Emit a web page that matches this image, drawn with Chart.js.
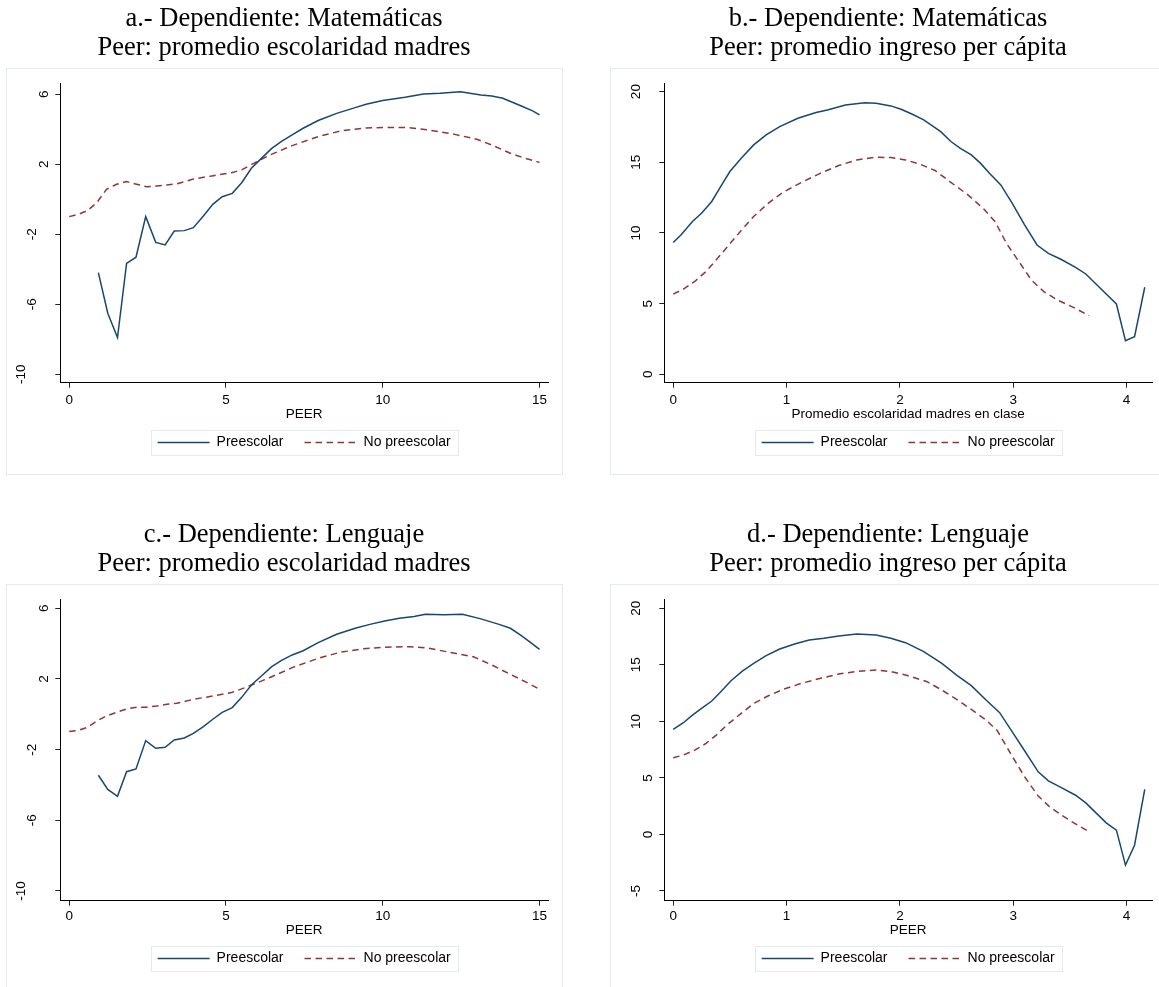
<!DOCTYPE html>
<html>
<head>
<meta charset="utf-8">
<script src="https://cdn.jsdelivr.net/npm/chart.js@4.4.1/dist/chart.umd.min.js"></script>
<style>
  html, body { margin: 0; padding: 0; background: #fff; overflow: hidden; width: 1159px; height: 987px; }
  .panel { position: absolute; width: 568px; height: 516px; }
</style>
</head>
<body>
<div class="panel" style="left:0;top:0"><canvas id="g-a" width="568" height="516"></canvas></div>
<div class="panel" style="left:604px;top:0"><canvas id="g-b" width="568" height="516"></canvas></div>
<div class="panel" style="left:0;top:516px"><canvas id="g-c" width="568" height="516"></canvas></div>
<div class="panel" style="left:604px;top:516px"><canvas id="g-d" width="568" height="516"></canvas></div>
<script>
// --- DATOS ---
const seriesNames = ['Preescolar', 'No preescolar'];

const xTicksEsc = [0, 5, 10, 15];
const xTicksIng = [0, 1, 2, 3, 4];
const yTicksEsc = [-10, -6, -2, 2, 6];
const yTicksB = [0, 5, 10, 15, 20];
const yTicksD = [-5, 0, 5, 10, 15, 20];

// a.- Matemáticas / escolaridad madres
const aPreX = [0.93, 1.23, 1.54, 1.83, 2.13, 2.44, 2.76, 3.06, 3.35, 3.67, 3.96, 4.28, 4.58, 4.88, 5.20, 5.50, 5.81, 6.13, 6.46, 6.76, 7.11, 7.46, 7.94, 8.53, 9.12, 9.47, 10.0, 10.71, 11.30, 11.83, 12.48, 13.13, 13.48, 13.83, 14.42, 14.78, 15.0];
const aPreY = [-4.19, -6.51, -7.90, -3.66, -3.31, -0.99, -2.46, -2.61, -1.81, -1.79, -1.62, -0.95, -0.29, 0.15, 0.34, 0.95, 1.77, 2.34, 2.91, 3.30, 3.68, 4.06, 4.50, 4.91, 5.24, 5.43, 5.64, 5.83, 6.02, 6.06, 6.15, 5.96, 5.90, 5.77, 5.33, 5.05, 4.82];
const aNoX = [0, 0.29, 0.58, 0.88, 1.19, 1.51, 1.83, 2.15, 2.47, 2.79, 3.11, 3.43, 3.96, 4.60, 5.18, 5.50, 5.93, 6.40, 7.11, 7.94, 8.64, 9.35, 10.0, 10.77, 11.47, 12.30, 13.0, 13.48, 14.07, 14.54, 15.0];
const aNoY = [-0.99, -0.86, -0.65, -0.19, 0.57, 0.86, 1.01, 0.86, 0.72, 0.76, 0.82, 0.88, 1.16, 1.35, 1.52, 1.68, 2.10, 2.53, 3.07, 3.58, 3.90, 4.06, 4.11, 4.10, 3.96, 3.71, 3.43, 3.10, 2.63, 2.34, 2.11];

// b.- Matemáticas / ingreso per cápita
const bPreX = [0, 0.07, 0.17, 0.25, 0.34, 0.42, 0.50, 0.60, 0.71, 0.82, 0.94, 1.10, 1.26, 1.36, 1.52, 1.69, 1.79, 1.92, 2.01, 2.11, 2.21, 2.36, 2.45, 2.53, 2.63, 2.71, 2.79, 2.89, 2.99, 3.10, 3.21, 3.31, 3.42, 3.55, 3.64, 3.73, 3.82, 3.91, 3.99, 4.07, 4.16];
const bPreY = [9.33, 9.87, 10.81, 11.40, 12.23, 13.29, 14.35, 15.29, 16.23, 16.94, 17.53, 18.12, 18.52, 18.70, 19.06, 19.22, 19.18, 18.99, 18.75, 18.40, 18.0, 17.17, 16.47, 16.0, 15.52, 14.94, 14.23, 13.40, 12.11, 10.58, 9.15, 8.56, 8.14, 7.57, 7.10, 6.39, 5.68, 4.98, 2.38, 2.66, 6.16];
const bNoX = [0, 0.09, 0.19, 0.29, 0.38, 0.48, 0.60, 0.71, 0.84, 0.97, 1.13, 1.30, 1.46, 1.62, 1.79, 1.92, 2.05, 2.18, 2.31, 2.44, 2.60, 2.74, 2.84, 2.94, 3.06, 3.16, 3.27, 3.39, 3.53, 3.67];
const bNoY = [5.68, 6.03, 6.57, 7.28, 8.10, 9.05, 10.18, 11.17, 12.11, 12.89, 13.57, 14.23, 14.77, 15.17, 15.36, 15.34, 15.17, 14.86, 14.42, 13.64, 12.70, 11.70, 10.80, 9.27, 7.86, 6.67, 5.85, 5.26, 4.74, 4.15];

// c.- Lenguaje / escolaridad madres
const cPreX = [0.93, 1.23, 1.54, 1.83, 2.13, 2.44, 2.76, 3.06, 3.35, 3.67, 3.96, 4.28, 4.58, 4.88, 5.20, 5.50, 5.81, 6.13, 6.46, 6.76, 7.11, 7.46, 7.94, 8.53, 9.12, 9.59, 10.06, 10.53, 11.0, 11.36, 11.95, 12.54, 13.13, 13.71, 14.07, 14.42, 14.72, 15.0];
const cPreY = [-3.45, -4.25, -4.64, -3.25, -3.09, -1.49, -1.92, -1.87, -1.45, -1.34, -1.08, -0.70, -0.28, 0.11, 0.38, 0.96, 1.66, 2.17, 2.70, 3.04, 3.36, 3.60, 4.06, 4.53, 4.87, 5.09, 5.28, 5.43, 5.53, 5.66, 5.64, 5.66, 5.40, 5.09, 4.87, 4.45, 4.06, 3.68];
const cNoX = [0, 0.29, 0.58, 0.88, 1.19, 1.51, 1.83, 2.15, 2.47, 2.79, 3.11, 3.43, 3.96, 4.60, 5.18, 5.70, 6.40, 7.11, 7.94, 8.64, 9.35, 10.0, 10.88, 11.47, 12.30, 12.89, 13.48, 14.07, 14.54, 15.0];
const cNoY = [-0.98, -0.91, -0.74, -0.38, -0.09, 0.11, 0.30, 0.40, 0.40, 0.47, 0.57, 0.62, 0.85, 1.04, 1.23, 1.57, 2.08, 2.64, 3.17, 3.51, 3.70, 3.79, 3.83, 3.74, 3.45, 3.26, 2.79, 2.26, 1.85, 1.42];

// d.- Lenguaje / ingreso per cápita
const dPreX = [0, 0.09, 0.17, 0.25, 0.34, 0.42, 0.51, 0.61, 0.71, 0.82, 0.94, 1.07, 1.20, 1.33, 1.46, 1.62, 1.79, 1.92, 2.05, 2.21, 2.37, 2.50, 2.63, 2.76, 2.88, 2.99, 3.10, 3.22, 3.31, 3.42, 3.55, 3.64, 3.73, 3.82, 3.91, 3.99, 4.07, 4.16];
const dPreY = [9.29, 9.88, 10.56, 11.15, 11.80, 12.63, 13.60, 14.45, 15.13, 15.81, 16.40, 16.84, 17.20, 17.35, 17.55, 17.73, 17.64, 17.35, 16.96, 16.17, 15.13, 14.10, 13.16, 11.89, 10.77, 9.10, 7.40, 5.54, 4.74, 4.16, 3.47, 2.79, 1.91, 1.03, 0.38, -2.71, -0.95, 3.98];
const dNoX = [0, 0.09, 0.19, 0.29, 0.38, 0.48, 0.60, 0.71, 0.84, 0.97, 1.13, 1.30, 1.46, 1.62, 1.79, 1.92, 2.05, 2.24, 2.37, 2.50, 2.63, 2.76, 2.86, 2.98, 3.10, 3.22, 3.32, 3.42, 3.53, 3.67];
const dNoY = [6.78, 7.02, 7.46, 8.05, 8.79, 9.73, 10.71, 11.59, 12.27, 12.83, 13.36, 13.81, 14.19, 14.42, 14.54, 14.40, 14.10, 13.51, 12.77, 11.95, 11.06, 10.12, 9.17, 7.1, 5.1, 3.4, 2.45, 1.75, 1.05, 0.23];

// --- ESTILO ---
const navy = '#1a476f';
const maroon = '#90353b';
const frameColor = '#e1eaed';
const sansFont = { family: 'Liberation Sans', size: 13.5 };

const pts = (xs, ys) => xs.map((x, i) => ({ x, y: ys[i] }));

// marco exterior y caja de leyenda (estilo Stata)
const panelFrame = {
    id: 'panelFrame',
    beforeDraw(chart) {
        const { ctx, chartArea: a } = chart;
        ctx.save();
        ctx.strokeStyle = frameColor;
        ctx.lineWidth = 1;
        const l = Math.round(a.left - 54.8) + 0.5, t = Math.round(a.top - 15) + 0.5;
        const r = Math.round(a.right + 14.3) + 0.5, b = Math.round(a.top + 390.7) + 0.5;
        ctx.strokeRect(l, t, r - l, b - t);
        ctx.restore();
    },
    afterDraw(chart) {
        const boxes = chart.legend.legendHitBoxes;
        if (!boxes || !boxes.length) return;
        const ctx = chart.ctx;
        const left = Math.min(...boxes.map(h => h.left)) - 6.5;
        const right = Math.max(...boxes.map(h => h.left + h.width)) + 7.5;
        const cy = boxes[0].top + boxes[0].height / 2;
        ctx.save();
        ctx.strokeStyle = frameColor;
        ctx.lineWidth = 1;
        ctx.strokeRect(Math.round(left) + 0.5, Math.round(cy - 12.5) + 0.5, Math.round(right - left), 25);
        ctx.restore();
    }
};

// etiquetas del eje y giradas 90 grados
const vertLabels = {
    id: 'vertLabels',
    afterDraw(chart) {
        const s = chart.scales.y;
        const ctx = chart.ctx;
        ctx.save();
        ctx.font = '13.5px "Liberation Sans"';
        ctx.fillStyle = '#000';
        ctx.textAlign = 'center';
        ctx.textBaseline = 'middle';
        s.ticks.forEach(t => {
            const lab = String(t.value);
            const py = s.getPixelForValue(t.value);
            const cx = s.right - 16 - 11.75 * (lab.length - 1);
            ctx.save();
            ctx.translate(cx, py);
            ctx.rotate(-Math.PI / 2);
            ctx.fillText(lab, 0, 0);
            ctx.restore();
        });
        ctx.restore();
    }
};

// muestras de línea en la leyenda con el mismo trazo que la serie
function legendLabels(chart) {
    const items = Chart.defaults.plugins.legend.labels.generateLabels(chart);
    items.forEach(it => {
        const ds = chart.data.datasets[it.datasetIndex];
        it.lineDash = ds.borderDash || [];
        it.lineWidth = ds.borderWidth;
        it.strokeStyle = ds.borderColor;
    });
    return items;
}

function makePanel(canvasId, cfg) {
    const canvas = document.getElementById(canvasId);
    const axisGrid = { display: true, drawOnChartArea: false, drawTicks: true, tickLength: 5, color: '#222', tickColor: '#222' };
    const axisBorder = { display: true, color: '#000', width: 1 };

    return new Chart(canvas.getContext('2d'), {
        type: 'line',
        data: {
            datasets: [{
                label: seriesNames[0],
                data: pts(cfg.preX, cfg.preY),
                borderColor: navy,
                backgroundColor: navy,
                borderWidth: 1.5,
                pointRadius: 0,
                tension: 0,
                fill: false
            }, {
                label: seriesNames[1],
                data: pts(cfg.noX, cfg.noY),
                borderColor: maroon,
                backgroundColor: maroon,
                borderWidth: 1.5,
                borderDash: [6.5, 4.5],
                pointRadius: 0,
                tension: 0,
                fill: false
            }]
        },
        options: {
            responsive: false,
            animation: false,
            devicePixelRatio: 1,
            layout: { padding: { left: 20, right: 20, top: 0, bottom: 56.5 } },
            plugins: {
                title: {
                    display: true,
                    text: cfg.title,
                    color: '#000',
                    font: { family: 'Liberation Serif', size: 26.5, weight: 'normal', lineHeight: 1.094 },
                    padding: { top: 4.5, bottom: 20.8 }
                },
                legend: {
                    position: 'bottom',
                    fullSize: false,
                    labels: {
                        usePointStyle: true,
                        pointStyle: 'line',
                        pointStyleWidth: 52,
                        color: '#000',
                        font: { family: 'Liberation Sans', size: 14 },
                        padding: 21,
                        generateLabels: legendLabels
                    }
                },
                tooltip: { enabled: false }
            },
            scales: {
                x: {
                    type: 'linear',
                    min: cfg.xMin,
                    max: cfg.xMax,
                    afterBuildTicks: s => { s.ticks = cfg.xTicks.map(v => ({ value: v })); },
                    afterFit: s => { s.height = cfg.xAxisH; },
                    grid: axisGrid,
                    border: axisBorder,
                    ticks: { color: '#000', font: sansFont, padding: cfg.tickPad, maxRotation: 0, autoSkip: false },
                    title: { display: true, text: cfg.xTitle, color: '#000', font: sansFont, padding: { top: 0, bottom: -8.1 } }
                },
                y: {
                    type: 'linear',
                    min: cfg.yMin,
                    max: cfg.yMax,
                    afterBuildTicks: s => { s.ticks = cfg.yTicks.map(v => ({ value: v })); },
                    afterFit: s => { s.width = 40.3; },
                    grid: axisGrid,
                    border: axisBorder,
                    ticks: { color: 'rgba(0,0,0,0)', font: sansFont, autoSkip: false }
                }
            }
        },
        plugins: [panelFrame, vertLabels]
    });
}

makePanel('g-a', {
    title: ['a.- Dependiente: Matemáticas', 'Peer: promedio escolaridad madres'],
    preX: aPreX, preY: aPreY, noX: aNoX, noY: aNoY,
    xMin: -0.284, xMax: 15.27, xTicks: xTicksEsc, xTitle: 'PEER',
    yMin: -10.48, yMax: 6.63, yTicks: yTicksEsc,
    xAxisH: 31.8, tickPad: 4.2
});
makePanel('g-b', {
    title: ['b.- Dependiente: Matemáticas', 'Peer: promedio ingreso per cápita'],
    preX: bPreX, preY: bPreY, noX: bNoX, noY: bNoY,
    xMin: -0.0785, xMax: 4.224, xTicks: xTicksIng, xTitle: 'Promedio escolaridad madres en clase',
    yMin: -0.59, yMax: 20.59, yTicks: yTicksB,
    xAxisH: 31.8, tickPad: 4.2
});
makePanel('g-c', {
    title: ['c.- Dependiente: Lenguaje', 'Peer: promedio escolaridad madres'],
    preX: cPreX, preY: cPreY, noX: cNoX, noY: cNoY,
    xMin: -0.284, xMax: 15.27, xTicks: xTicksEsc, xTitle: 'PEER',
    yMin: -10.55, yMax: 6.51, yTicks: yTicksEsc,
    xAxisH: 29.8, tickPad: 2.2
});
makePanel('g-d', {
    title: ['d.- Dependiente: Lenguaje', 'Peer: promedio ingreso per cápita'],
    preX: dPreX, preY: dPreY, noX: dNoX, noY: dNoY,
    xMin: -0.0785, xMax: 4.224, xTicks: xTicksIng, xTitle: 'PEER',
    yMin: -5.86, yMax: 20.8, yTicks: yTicksD,
    xAxisH: 29.8, tickPad: 2.2
});
</script>
</body>
</html>
